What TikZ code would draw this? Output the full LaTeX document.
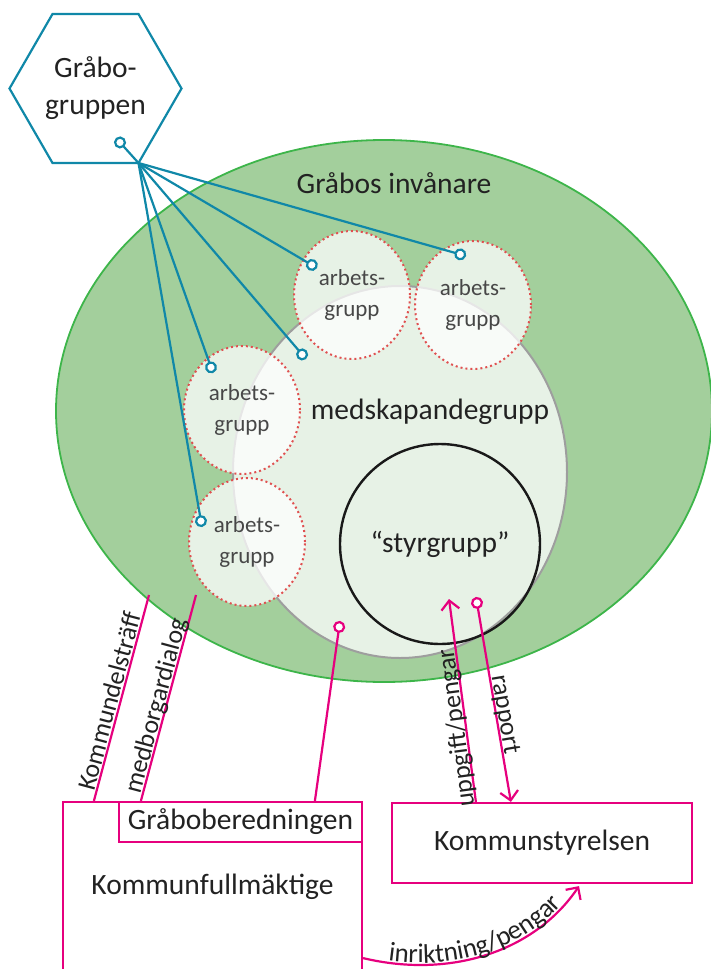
\documentclass[tikz,border=0pt]{standalone}
\usepackage{fontspec}
\setmainfont{Carlito}
\usetikzlibrary{calc,shapes.geometric,arrows.meta,decorations.text}

\definecolor{grabogreen}{RGB}{163,207,156}
\definecolor{graboedge}{RGB}{61,181,74}
\definecolor{graboblue}{RGB}{16,136,168}
\definecolor{kommunpink}{RGB}{230,0,126}
\definecolor{dotred}{RGB}{224,80,80}
\definecolor{textgray}{RGB}{34,34,34}

\tikzset{
  bigoval/.style={ellipse, draw=graboedge, fill=grabogreen, line width=1.8pt, minimum width=656pt, minimum height=542pt, inner sep=0pt},
  medoval/.style={ellipse, draw=black!38, fill=white, fill opacity=0.75, line width=2pt, minimum width=334pt, minimum height=372pt, inner sep=0pt},
  styroval/.style={ellipse, draw=black!90, line width=2.4pt, minimum width=200pt, minimum height=200pt, inner sep=0pt},
  arbets/.style={ellipse, draw=dotred, fill=white, fill opacity=0.75, text opacity=1, line width=2pt, dash pattern=on 2pt off 3pt, minimum width=116pt, minimum height=128pt, inner sep=0pt, align=center, text=black!72, font=\fontsize{23}{31}\selectfont},
  hexa/.style={regular polygon, regular polygon sides=6, draw=graboblue, line width=2.2pt, minimum size=172pt, inner sep=0pt, outer sep=0pt, align=center, font=\fontsize{29.5}{37}\selectfont},
  blueline/.style={draw=graboblue, line width=2.2pt, -{Circle[length=12pt, fill=white]}},
  pinkline/.style={draw=kommunpink, line width=2.2pt},
  pinkbox/.style={rectangle, draw=kommunpink, line width=2.2pt, inner sep=0pt},
  pinktip/.style={-{Straight Barb[length=9pt, width=18pt]}},
  pinkdot/.style={{Circle[length=12pt, fill=white]}-},
  linelabel/.style={font=\fontsize{26}{26}\selectfont, sloped, anchor=base, yshift=2pt, inner sep=0pt}
}

\begin{document}
\begin{tikzpicture}[x=1pt, y=-1pt, font=\fontsize{29.5}{35}\selectfont, text=textgray]
%%%%% START %%%%%
\useasboundingbox (0, 0) rectangle (710, 969);

% residents and groups
\node[bigoval] (invanare) at (384, 411) {};
\node (invtext) at (394, 183) {Gråbos invånare};
\node[medoval] (medskap) at (400, 472) {};
\node (medtext) at (430, 412) {medskapandegrupp};
\node[styroval] (styr) at (440, 544) {“styrgrupp”};

\node[arbets] (arb1) at (352, 295) {arbets-\\grupp};
\node[arbets] (arb2) at (473, 305) {arbets-\\grupp};
\node[arbets] (arb3) at (242, 410) {arbets-\\grupp};
\node[arbets] (arb4) at (247, 542) {arbets-\\grupp};

% Gråbogruppen
\node[hexa] (grabo) at (95.5, 88.5) {Gråbo-\\gruppen};
\coordinate (hub) at (grabo.300);
\coordinate (hexdot) at (116, 138);
\coordinate (arb1dot) at (317, 268);
\coordinate (arb2dot) at (466, 256);
\coordinate (meddot) at (306, 359);
\coordinate (arb3dot) at (213, 373);
\coordinate (arb4dot) at (202, 527);

\draw[blueline] (hub) -- (hexdot);
\draw[blueline] (hub) -- (arb1dot);
\draw[blueline] (hub) -- (arb2dot);
\draw[blueline] (hub) -- (meddot);
\draw[blueline] (hub) -- (arb3dot);
\draw[blueline] (hub) -- (arb4dot);

% kommun
\node[pinkbox, minimum width=299pt, minimum height=170pt] (fullm) at (212.5, 887) {Kommunfullmäktige};
\node[pinkbox, fill=white, minimum width=243pt, minimum height=40pt] (bered) at (240.5, 822) {Gråboberedningen};
\node[pinkbox, minimum width=300pt, minimum height=80pt] (styrelsen) at (542, 843) {Kommunstyrelsen};

\coordinate (kdtop) at (149, 595);
\coordinate (mdtop) at (196, 595);
\coordinate (medpin) at (340, 621);
\coordinate (styrtip) at (449, 599);
\coordinate (styrpin) at (476, 597);

\draw[pinkline] ($(fullm.north west)+(32,0)$) -- (kdtop) node[linelabel, pos=0.47] {Kommundelsträff};
\draw[pinkline] ($(bered.north west)+(23,0)$) -- (mdtop) node[linelabel, pos=0.45] {medborgardialog};
\draw[pinkline, pinkdot] (medpin) -- ($(bered.north west)+(197,0)$);
\draw[pinkline, pinktip] ($(styrelsen.north west)+(85,0)$) -- (styrtip) node[linelabel, allow upside down, pos=0.37] {uppgift/pengar};
\draw[pinkline, {Circle[length=12pt, fill=white]}-{Straight Barb[length=9pt, width=18pt]}] (styrpin) -- ($(styrelsen.north west)+(120,0)$) node[linelabel, pos=0.58] {rapport};

\coordinate (riktstart) at ($(fullm.south east)+(0,-15)$);
\coordinate (riktend) at ($(styrelsen.south)+(37,2)$);
\draw[pinkline, pinktip] (riktstart) .. controls +(88,21) and +(-44,65) .. (riktend);
\path[decorate, decoration={text along path, text={|\fontsize{27}{27}\selectfont|inriktning/pengar}, text align=center, raise=2pt, text color=textgray}] (riktstart) .. controls +(88,21) and +(-44,65) .. (riktend);

%%%%% END %%%%%
\end{tikzpicture}
\end{document}
